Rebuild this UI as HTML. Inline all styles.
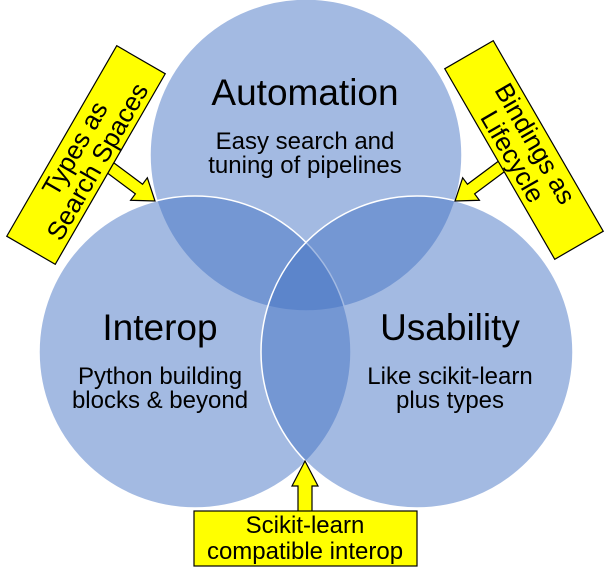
<!DOCTYPE html>
<html><head><meta charset="utf-8"><style>
html,body{margin:0;padding:0;background:#fff;}
svg{display:block;}
text{font-family:"Liberation Sans",sans-serif;fill:#000;}
</style></head><body>
<svg width="611" height="572" viewBox="0 0 611 572" xmlns="http://www.w3.org/2000/svg">
<g fill="#4472c4" fill-opacity="0.49" stroke="#fff" stroke-width="1.5">
<circle cx="306" cy="155" r="156"/>
<circle cx="195" cy="352" r="156"/>
<circle cx="417" cy="352" r="156"/>
</g>
<g font-size="37" text-anchor="middle">
<text x="305" y="105">Automation</text>
<text x="160" y="340">Interop</text>
<text x="450" y="340">Usability</text>
</g>
<g font-size="24" text-anchor="middle">
<text x="305" y="149">Easy search and</text>
<text x="305" y="173">tuning of pipelines</text>
<text x="160" y="384">Python building</text>
<text x="160" y="408">blocks &amp; beyond</text>
<text x="450" y="384">Like scikit-learn</text>
<text x="450" y="408">plus types</text>
</g>
<g transform="translate(155,201) rotate(36.7)" fill="#ffff00" stroke="#000" stroke-width="1.2">
<polygon points="0,0 -20,-14 -20,-6 -60,-6 -60,6 -20,6 -20,14"/>
</g>
<g transform="translate(455,201) rotate(143.3)" fill="#ffff00" stroke="#000" stroke-width="1.2">
<polygon points="0,0 -20,-14 -20,-6 -60,-6 -60,6 -20,6 -20,14"/>
</g>
<g transform="translate(86,155) rotate(-60)">
<rect x="-110" y="-28" width="220" height="56" fill="#ffff00" stroke="#000" stroke-width="1.2"/>
<text x="0" y="-4" font-size="26" text-anchor="middle">Types as</text>
<text x="0" y="22" font-size="26" text-anchor="middle">Search Spaces</text>
</g>
<g transform="translate(524,150) rotate(60)">
<rect x="-110" y="-28" width="220" height="56" fill="#ffff00" stroke="#000" stroke-width="1.2"/>
<text x="0" y="-4" font-size="26" text-anchor="middle">Bindings as</text>
<text x="0" y="22" font-size="26" text-anchor="middle">Lifecycle</text>
</g>
<polygon points="305,461 318,486 312,486 312,512 298,512 298,486 292,486" fill="#ffff00" stroke="#000" stroke-width="1.2"/>
<rect x="194" y="511" width="223" height="55" fill="#ffff00" stroke="#000" stroke-width="1.2"/>
<text x="305" y="533" font-size="24" text-anchor="middle">Scikit-learn</text>
<text x="305" y="559" font-size="24" text-anchor="middle">compatible interop</text>
</svg>
</body></html>
